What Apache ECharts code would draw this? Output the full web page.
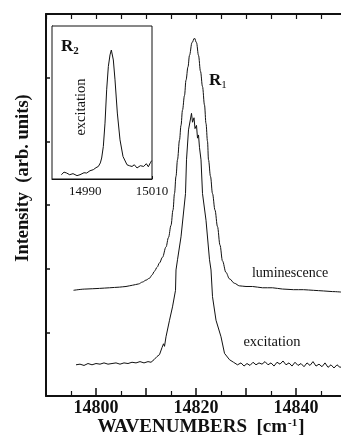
<!DOCTYPE html>
<html>
<head>
<meta charset="utf-8">
<script src="https://cdn.jsdelivr.net/npm/echarts@6/dist/echarts.min.js"></script>
<style>
  html, body { margin: 0; padding: 0; background: #fff; }
  #chart { width: 341px; height: 445px; }
</style>
</head>
<body>
<div id="chart"></div>
<script>
// luminescence spectrum (R1), wavenumber in cm-1, intensity in arb. units
const lumX = [14795.5, 14798.0, 14800.7, 14802.7, 14804.7, 14806.0, 14807.3, 14808.5, 14809.3, 14810.0,
  14810.7, 14811.2, 14811.7, 14812.2, 14812.7, 14813.3, 14814.0, 14814.5, 14815.0, 14815.4,
  14815.7, 14816.0, 14816.3, 14816.7, 14817.0, 14817.3, 14817.7, 14818.0, 14818.4, 14818.7,
  14819.2, 14819.7, 14820.1, 14820.5, 14820.9, 14821.3, 14821.7, 14822.0, 14822.3, 14822.5,
  14822.9, 14823.3, 14823.8, 14824.3, 14824.8, 14825.3, 14826.0, 14826.7, 14827.7, 14828.7,
  14830.0, 14831.3, 14833.3, 14835.3, 14837.3, 14839.5, 14841.5, 14843.5, 14845.5, 14847.3, 14849.4];
const lumY = [1.66, 1.68, 1.69, 1.70, 1.71, 1.72, 1.74, 1.76, 1.79, 1.82,
  1.85, 1.90, 1.96, 2.02, 2.09, 2.18, 2.34, 2.49, 2.68, 2.92,
  3.18, 3.45, 3.71, 4.02, 4.25, 4.49, 4.72, 4.96, 5.17, 5.35,
  5.55, 5.62, 5.55, 5.35, 5.10, 4.86, 4.57, 4.28, 4.00, 3.71,
  3.45, 3.18, 2.92, 2.66, 2.37, 2.12, 1.94, 1.84, 1.77, 1.73,
  1.72, 1.72, 1.70, 1.70, 1.68, 1.67, 1.67, 1.66, 1.65, 1.64, 1.63];

// excitation spectrum (R1)
const excX = [14796.0, 14796.8, 14797.6, 14798.4, 14799.2, 14800.0, 14800.8, 14801.6, 14802.4, 14803.2,
  14804.0, 14804.8, 14805.6, 14806.4, 14807.2, 14808.0, 14808.8, 14809.6, 14810.4, 14811.0,
  14811.6, 14812.2, 14812.7, 14813.2, 14813.5, 14813.7, 14814.0, 14814.7, 14815.3, 14815.9,
  14816.0, 14816.3, 14817.0, 14817.9, 14818.1, 14818.5, 14819.1, 14819.3, 14819.6, 14819.8,
  14820.1, 14820.3, 14820.5, 14820.7, 14821.0, 14821.3, 14822.0, 14822.7, 14823.0, 14823.3,
  14824.0, 14825.0, 14825.7, 14826.7, 14827.5, 14828.3, 14829.0, 14829.6, 14830.2, 14830.8,
  14831.4, 14832.0, 14832.6, 14833.2, 14833.8, 14834.4, 14835.0, 14835.6, 14836.2, 14836.8,
  14837.4, 14838.0, 14838.6, 14839.2, 14839.8, 14840.4, 14841.0, 14841.6, 14842.2, 14842.8,
  14843.4, 14844.0, 14844.6, 14845.2, 14845.8, 14846.4, 14847.0, 14847.6, 14848.2, 14848.8, 14849.4];
const excY = [0.49, 0.50, 0.48, 0.51, 0.49, 0.51, 0.50, 0.52, 0.50, 0.51,
  0.52, 0.50, 0.52, 0.51, 0.53, 0.52, 0.54, 0.52, 0.54, 0.53,
  0.57, 0.62, 0.65, 0.76, 0.82, 0.78, 0.93, 1.19, 1.40, 1.66,
  1.98, 2.14, 2.50, 3.18, 3.71, 4.18, 4.44, 4.30, 4.37, 4.20,
  4.25, 4.05, 4.10, 3.90, 3.71, 3.18, 2.76, 2.14, 1.98, 1.56,
  1.19, 0.93, 0.67, 0.57, 0.53, 0.49, 0.52, 0.47, 0.51, 0.48,
  0.53, 0.49, 0.52, 0.50, 0.54, 0.49, 0.52, 0.47, 0.53, 0.50,
  0.55, 0.49, 0.52, 0.47, 0.53, 0.48, 0.51, 0.46, 0.52, 0.48,
  0.54, 0.47, 0.50, 0.46, 0.52, 0.45, 0.49, 0.44, 0.49, 0.45, 0.47];

// inset: excitation of R2
const insetX = [14982.8, 14983.6, 14984.4, 14985.3, 14986.3, 14987.5, 14988.4, 14989.6, 14990.4, 14991.4,
  14992.4, 14993.2, 14993.9, 14994.5, 14994.9, 14995.4, 14995.9, 14996.4, 14996.9, 14997.4,
  14997.8, 14998.4, 14998.9, 14999.6, 15000.4, 15001.3, 15002.5, 15003.2, 15004.0, 15004.7,
  15005.5, 15006.5, 15007.5, 15008.3, 15008.9, 15009.5, 15009.9];
const insetY = [0.028, 0.045, 0.039, 0.028, 0.035, 0.022, 0.028, 0.041, 0.039, 0.054,
  0.061, 0.074, 0.082, 0.105, 0.137, 0.213, 0.365, 0.583, 0.735, 0.811,
  0.843, 0.778, 0.648, 0.431, 0.256, 0.147, 0.093, 0.087, 0.082, 0.093,
  0.072, 0.087, 0.082, 0.100, 0.080, 0.106, 0.120];

const mainTicks = [14800, 14820, 14840];
const insetTicks = [14990, 15010];

const zip = (xs, ys) => xs.map((x, i) => [x, ys[i]]);
const serif = "'Liberation Serif', 'DejaVu Serif', serif";
const ink = "#111";

const chart = echarts.init(document.getElementById("chart"), null, { renderer: "canvas" });

chart.setOption({
  backgroundColor: "#fff",
  animation: false,
  grid: [
    // the right edge of the plot frame lies past the picture edge
    { left: 46, top: 14, width: 300, height: 382, outerBoundsMode: "none" },
    { left: 52, top: 26, width: 100, height: 153, outerBoundsMode: "none",
      show: true, borderColor: ink, borderWidth: 1, backgroundColor: "#fff", z: 5 }
  ],
  xAxis: [
    {
      gridIndex: 0, type: "value", min: 14790, max: 14850, interval: 10,
      axisLine: { lineStyle: { color: ink, width: 2 } },
      axisTick: { inside: true, length: 8, lineStyle: { color: ink, width: 1.5 } },
      minorTick: { show: true, splitNumber: 2, length: 5, lineStyle: { color: ink, width: 1.2 } },
      splitLine: { show: false },
      axisLabel: {
        margin: 3, color: ink, fontFamily: serif, fontWeight: "bold", fontSize: 18,
        formatter: (v) => (mainTicks.includes(v) ? String(v) : "")
      }
    },
    {
      gridIndex: 0, type: "value", position: "top", min: 14790, max: 14850, interval: 5,
      axisLine: { lineStyle: { color: ink, width: 2 } },
      axisTick: { inside: true, length: 5, lineStyle: { color: ink, width: 1.2 } },
      splitLine: { show: false },
      axisLabel: { show: false }
    },
    {
      gridIndex: 1, type: "value", min: 14980, max: 15010, interval: 10,
      axisLine: { lineStyle: { color: ink, width: 1 } },
      axisTick: { inside: true, length: 3, lineStyle: { color: ink } },
      minorTick: { show: true, splitNumber: 2, length: 2, lineStyle: { color: ink } },
      splitLine: { show: false },
      axisLabel: {
        margin: 6, color: ink, fontFamily: serif, fontSize: 13, showMaxLabel: true,
        formatter: (v) => (insetTicks.includes(v) ? String(v) : "")
      }
    }
  ],
  yAxis: [
    {
      gridIndex: 0, type: "value", min: 0, max: 6, interval: 1,
      axisLine: { lineStyle: { color: ink, width: 2 } },
      axisTick: { inside: true, length: 4, lineStyle: { color: ink, width: 1.5 } },
      splitLine: { show: false },
      axisLabel: { show: false }
    },
    {
      gridIndex: 1, type: "value", min: 0, max: 1, interval: 0.25,
      axisLine: { lineStyle: { color: ink, width: 1 } },
      axisTick: { inside: true, length: 2, lineStyle: { color: ink } },
      splitLine: { show: false },
      axisLabel: { show: false }
    }
  ],
  series: [
    {
      name: "luminescence", type: "line", xAxisIndex: 0, yAxisIndex: 0,
      data: zip(lumX, lumY), showSymbol: false, smooth: 0.35, smoothMonotone: "x",
      lineStyle: { color: ink, width: 1 }
    },
    {
      name: "excitation", type: "line", xAxisIndex: 0, yAxisIndex: 0,
      data: zip(excX, excY), showSymbol: false,
      lineStyle: { color: ink, width: 1 }
    },
    {
      name: "R2 excitation", type: "line", xAxisIndex: 2, yAxisIndex: 1, z: 6,
      data: zip(insetX, insetY), showSymbol: false,
      lineStyle: { color: ink, width: 1 }
    }
  ],
  graphic: [
    {
      type: "text", x: 23, y: 178, z: 10, rotation: Math.PI / 2,
      style: {
        text: "Intensity  (arb. units)", fill: ink, font: "bold 18.5px " + serif,
        align: "center", verticalAlign: "middle"
      }
    },
    {
      type: "text", x: 201, y: 427, z: 10,
      style: {
        text: "{b|WAVENUMBERS  [cm}{s|-1}{b|]}", align: "center", verticalAlign: "middle",
        rich: {
          b: { font: "bold 19px " + serif, fill: ink },
          s: { font: "bold 11px " + serif, fill: ink, verticalAlign: "top", padding: [0, 1, 8, 1] }
        }
      }
    },
    {
      type: "text", x: 61, y: 47, z: 10,
      style: {
        text: "{r|R}{s|2}", verticalAlign: "middle",
        rich: {
          r: { font: "bold 17px " + serif, fill: ink },
          s: { font: "bold 11px " + serif, fill: ink, padding: [8, 0, 0, 0] }
        }
      }
    },
    {
      type: "text", x: 209, y: 81, z: 10,
      style: {
        text: "{r|R}{s|1}", verticalAlign: "middle",
        rich: {
          r: { font: "bold 17px " + serif, fill: ink },
          s: { font: "11px " + serif, fill: ink, padding: [8, 0, 0, 0] }
        }
      }
    },
    {
      type: "text", x: 81, y: 107, z: 10, rotation: Math.PI / 2,
      style: { text: "excitation", fill: ink, font: "14.5px " + serif, align: "center", verticalAlign: "middle" }
    },
    {
      type: "text", x: 290, y: 273, z: 10,
      style: { text: "luminescence", fill: ink, font: "14px " + serif, align: "center", verticalAlign: "middle" }
    },
    {
      type: "text", x: 272, y: 342, z: 10,
      style: { text: "excitation", fill: ink, font: "14.5px " + serif, align: "center", verticalAlign: "middle" }
    }
  ]
});
</script>
</body>
</html>
